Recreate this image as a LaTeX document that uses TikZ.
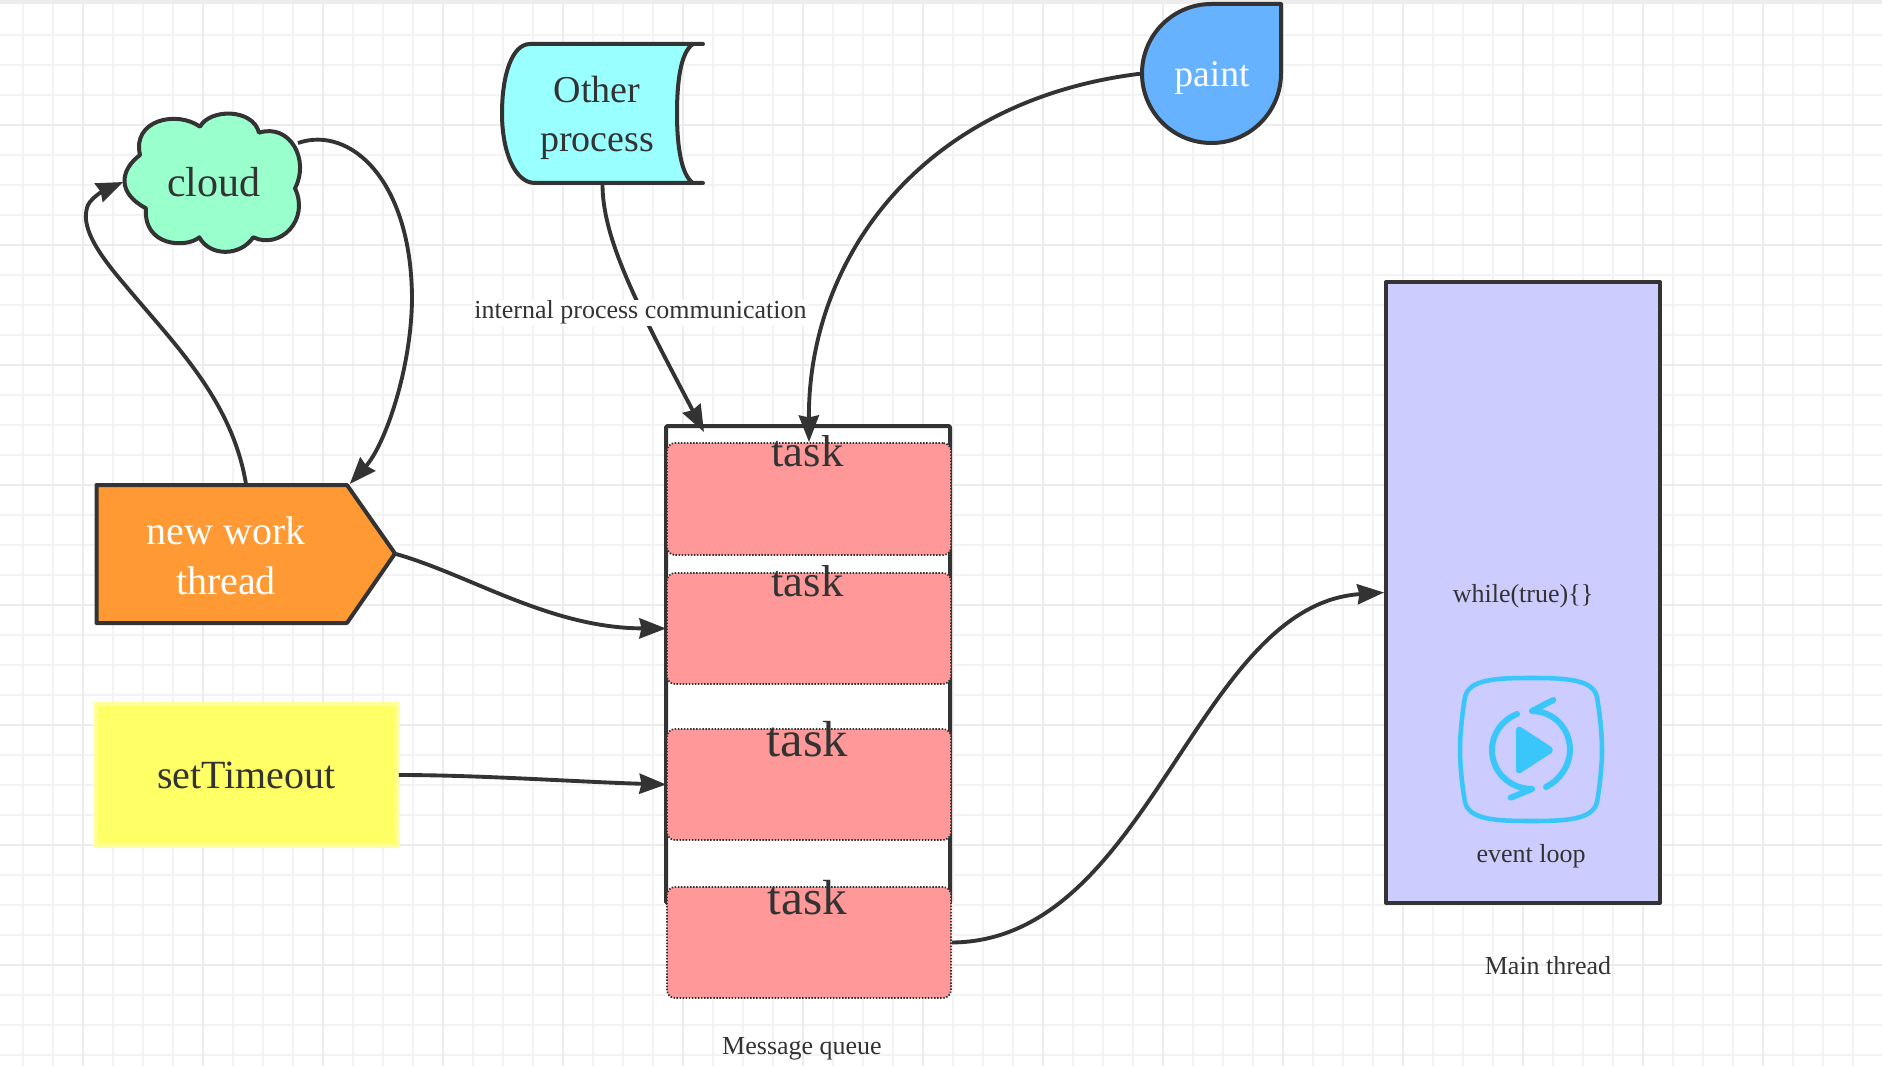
\documentclass[tikz,border=0pt]{standalone}
\usepackage{fontspec}
\setmainfont{Liberation Serif}
\usepackage{xcolor}
\usetikzlibrary{arrows.meta}
\definecolor{inkgrey}{HTML}{333333}
\definecolor{gridminor}{HTML}{F3F3F3}
\definecolor{gridmajor}{HTML}{ECECEC}
\definecolor{iconblue}{HTML}{3AC6F8}
\definecolor{taskred}{HTML}{FF9999}
\definecolor{mainviolet}{HTML}{CCCCFF}
\definecolor{yellowedge}{HTML}{FFFF99}
\definecolor{yellowfill}{HTML}{FFFF66}
\definecolor{cloudgreen}{HTML}{99FFCC}
\definecolor{processcyan}{HTML}{99FFFF}
\definecolor{paintblue}{HTML}{66B2FF}
\definecolor{threadorange}{HTML}{FF9933}
\tikzset{
  outline/.style={draw=inkgrey,line width=3pt,line join=round},
  holder/.style={inner sep=0pt,outer sep=0pt,text=inkgrey,font=\fontsize{30}{36.5}\selectfont},
  bigtext/.style={inner sep=0pt,align=center},
  smalltext/.style={inner sep=0pt,anchor=base,text=inkgrey,font=\fontsize{19.5}{23}\selectfont},
  tasktext/.style={inner sep=0pt,anchor=base,text=inkgrey},
  taskbox/.style={draw=inkgrey,fill=taskred,line width=1.3pt,dash pattern=on 1.1pt off 1.2pt,
    rounded corners=6pt,minimum width=213pt,inner sep=0pt},
  conn/.style={draw=inkgrey,line width=2.9pt,-{Stealth[length=20pt,width=15pt,inset=1.5pt]}},
}
\begin{document}
\begin{tikzpicture}[x=0.75pt,y=-0.75pt]
\useasboundingbox (0,0) rectangle (1882,1066);
\fill [white] (0,0) rectangle (1882,1066);

\foreach \gx in {23,53,...,1883} \draw [gridminor,line width=1.6pt] (\gx,0)--(\gx,1066);
\foreach \gy in {35,65,...,1066} \draw [gridminor,line width=1.6pt] (0,\gy)--(1882,\gy);
\foreach \gx in {83,203,...,1883} \draw [gridmajor,line width=2pt] (\gx,0)--(\gx,1066);
\foreach \gy in {125,245,...,1066} \draw [gridmajor,line width=2pt] (0,\gy)--(1882,\gy);
\fill [gridmajor] (0,0) rectangle (1882,4.5);

\node (queue) [outline,fill=white,rounded corners=1pt,minimum width=213pt,minimum height=357.75pt] at (808,664.5) {};
\node (task1) [taskbox,minimum height=84pt] at (809,499) {};
\node (task2) [taskbox,minimum height=83.25pt] at (809,628.5) {};
\node (task3) [taskbox,minimum height=83.25pt] at (809,784.5) {};
\node (task4) [taskbox,minimum height=83.25pt] at (809,942.5) {};

\node (mainthread) [outline,fill=mainviolet,minimum width=205.5pt,minimum height=465.75pt] at (1523,592.5) {};
\node (settimeout) [holder,draw=yellowedge,line width=2.6pt,fill=yellowfill,outer sep=1.3pt,minimum width=226pt,minimum height=106.5pt] at (246.5,775) {setTimeout};

\filldraw [outline,fill=cloudgreen] (200,126.7) .. controls (210,108.3) and (253,108.3) .. (259,132.7)
  .. controls (290,123) and (310,160) .. (295,188.3)
  .. controls (310,220) and (280,250) .. (253.3,237.3)
  .. controls (240,256.7) and (210,256.7) .. (199.3,237.3)
  .. controls (186.7,248.3) and (143,247) .. (146,208.3)
  .. controls (116.7,193) and (120,170) .. (140,155)
  .. controls (131.7,120) and (176.7,110) .. (200,126.7) -- cycle;
\node (cloud) [holder,font=\fontsize{31.5}{38}\selectfont,minimum width=136pt,minimum height=105pt] at (214,182) {cloud};

\filldraw [outline,fill=processcyan,line cap=round] (703,44) -- (530,44) .. controls (512,44) and (502,75) .. (502,113.5)
  .. controls (502,152) and (515,183) .. (535,183) -- (703,183) -- (693,183)
  .. controls (681,175) and (677,145) .. (677,113.5) .. controls (677,80) and (681,52) .. (693,44) -- cycle;
\node (process) [holder,minimum width=150.75pt,minimum height=104.25pt] at (602.5,113.5) {};
\node (processtext) [bigtext,text=inkgrey,font=\fontsize{28.5}{36.5}\selectfont] at (597,118) {Other\\process};

\filldraw [outline,fill=paintblue] (1281,4) -- (1281,73.5) .. controls (1281,111.9) and (1250,143) .. (1211.5,143)
  .. controls (1173,143) and (1142,111.9) .. (1142,73.5) .. controls (1142,35) and (1173,4) .. (1211.5,4) -- cycle;
\node (paint) [holder,minimum width=104.25pt,minimum height=104.25pt] at (1211.5,73.5) {};
\node (painttext) [bigtext,text=white,font=\fontsize{28.2}{34}\selectfont] at (1212,78) {paint};

\filldraw [outline,fill=threadorange] (96.5,485) -- (347,485) -- (395,553.5) -- (347,623) -- (96.5,623) -- cycle;
\node (thread) [holder,minimum width=225pt,minimum height=105pt] at (246,554) {};
\node (threadtext) [bigtext,text=white,font=\fontsize{30}{37.5}\selectfont] at (226,556) {new work\\thread};

\node (task1text) [tasktext,font=\fontsize{33.5}{40}\selectfont] at (807.5,466) {task};
\node (task2text) [tasktext,font=\fontsize{33.5}{40}\selectfont] at (807.5,596) {task};
\node (task3text) [tasktext,font=\fontsize{38}{45}\selectfont] at (807.5,756) {task};
\node (task4text) [tasktext,font=\fontsize{37}{44}\selectfont] at (807.5,914) {task};

\node (queuetext) [smalltext] at (802,1054) {Message queue};
\node (whiletext) [smalltext] at (1523,602) {while(true)\{\}};
\node (looptext) [smalltext] at (1531,862.5) {event loop};
\node (maintext) [smalltext] at (1548,974) {Main thread};

\coordinate (queuein) at (704,432);
\coordinate (cloudout) at (298,143);

\draw [conn] (thread.north) .. controls (232,400) and (175,345) .. (125,285) .. controls (95,250) and (80,225) .. (88,205) .. controls (92,197) and (105,190) .. (cloud.west);
\draw [conn] (cloudout) .. controls (350,125) and (412,180) .. (412,300) .. controls (411,370) and (385,445) .. (thread.34);
\draw [conn] (process.south) .. controls (602,240) and (640,310) .. node (iplabel) [pos=.6,yshift=-3.5pt,fill=white,inner sep=1pt,text=inkgrey,font=\fontsize{19.5}{23}\selectfont] {internal process communication} (queuein);
\draw [conn] (paint.west) .. controls (920,100) and (808,260) .. (task1.north);
\draw [conn] (thread.east) .. controls (470,575) and (550,628) .. (task2.west);
\draw [conn] (settimeout.east) .. controls (480,775) and (580,782) .. (task3.west);
\draw [conn] (task4.east) .. controls (1150,941) and (1195,605) .. (mainthread.west);

\draw [iconblue,line width=3.4pt,line join=round] (1531,678) .. controls (1565,678) and (1593,679) .. (1597,697) .. controls (1600,715) and (1602,735) .. (1602,750)
  .. controls (1602,765) and (1600,785) .. (1597,802) .. controls (1593,820) and (1565,821) .. (1531,821)
  .. controls (1497,821) and (1469,820) .. (1465,802) .. controls (1462,785) and (1460,765) .. (1460,750)
  .. controls (1460,735) and (1462,715) .. (1465,697) .. controls (1469,679) and (1497,678) .. (1531,678) -- cycle;
\draw [iconblue,line width=4.5pt,line cap=round,line join=round] (1553.3,700) -- (1532,711) .. controls (1553,711) and (1570,728) .. (1570,750) .. controls (1570,765) and (1560,780) .. (1546,787);
\draw [iconblue,line width=4.5pt,line cap=round,line join=round] (1510.7,797.7) -- (1532,789) .. controls (1510,789) and (1492,772) .. (1492,750) .. controls (1492,734) and (1502,720) .. (1517,714);
\fill [iconblue,rounded corners=5pt] (1516,724) -- (1556,750) -- (1516,776) -- cycle;
\end{tikzpicture}
\end{document}
